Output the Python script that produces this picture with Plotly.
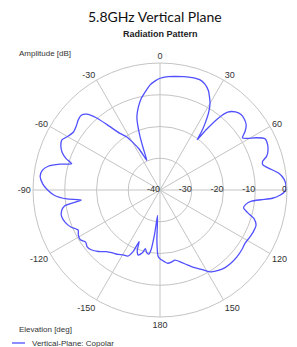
import plotly.graph_objects as go

# Elevation angle (deg, clockwise from top) and amplitude (dB)
theta_deg = [0, 4, 8, 12, 16, 20, 23, 26, 28, 30, 32, 34, 35.5, 36.5, 37.5, 39, 41, 44, 47, 50,
             53, 55.5, 57.7, 59.5, 61.5, 64, 67, 70, 72.5, 74.5, 76.5, 79, 82, 85, 88, 90.5,
             92.5, 94.2, 95.5, 97, 99.5, 102, 104.5, 107, 110, 114, 118, 122, 126, 131, 136,
             140, 144, 148, 152, 156, 160, 164, 168, 171, 174, 176.5, 179, 181.5, 183.5, 185.5,
             187, 188.5, 190, 192, 194, 195.5, 198.5, 200.5, 202, 203.5, 206, 209.5, 213, 217,
             221, 225, 229, 232, 235, 238, 241, 244, 247.5, 251, 255, 258, 260.5, 262.7, 264.5,
             267, 270, 273, 276.5, 279.5, 282, 284.5, 286.5, 288.5, 291, 294, 297, 300.5, 304,
             307.5, 310.5, 313.5, 316, 318.5, 321, 324.5, 328, 333, 336, 338, 339.5, 341, 342.5,
             345.5, 348.5, 351.5, 354.5, 357.5, 360]
gain_db = [-4.8, -4.2, -3.9, -3.5, -3.2, -3.1, -3.8, -5.2, -6.8, -8.5, -11.0, -14.5, -17.5, -20.3,
           -16.0, -11.0, -7.5, -5.8, -5.1, -5.3, -6.0, -7.5, -9.3, -8.0, -5.5, -3.2, -3.2, -3.8,
           -4.8, -6.5, -6.6, -4.8, -2.2, -0.8, -0.3, -0.6, -2.2, -4.5, -8.0, -11.0, -12.6, -13.1,
           -11.5, -9.0, -7.8, -7.8, -8.1, -8.4, -8.1, -7.9, -7.9, -8.1, -8.7, -9.6, -11.6, -13.2,
           -14.9, -16.4, -17.4, -17.0, -16.8, -17.4, -18.0, -19.0, -24.0, -32.0, -26.0, -21.0,
           -19.5, -19.8, -21.0, -19.6, -18.4, -19.5, -22.5, -19.0, -16.8, -16.5, -15.8, -15.2,
           -14.3, -12.6, -11.3, -10.9, -11.4, -10.4, -10.6, -11.3, -9.6, -8.5, -7.9, -8.3, -9.5,
           -15.0, -10.5, -6.8, -4.6, -3.0, -2.0, -2.4, -4.0, -7.5, -11.0, -8.8, -7.0, -5.8, -5.3,
           -6.5, -7.2, -6.8, -6.1, -5.8, -6.8, -9.5, -13.5, -18.0, -20.3, -25.5, -29.8, -26.0,
           -22.0, -18.5, -15.8, -12.9, -10.5, -8.7, -6.8, -5.6, -4.8]

angle_ticks = [0, 30, 60, 90, 120, 150, 180, 210, 240, 270, 300, 330]
angle_labels = ["0", "30", "60", "90", "120", "150", "180", "-150", "-120", "-90", "-60", "-30"]
r_ticks = [-40, -30, -20, -10, 0]
r_labels = ["-40", "-30", "-20", "-10", "0"]

series_name = "Vertical-Plane: Copolar"
line_color = "#5050ff"
grid_color = "#c4c4c4"
label_font = dict(family="Liberation Sans, Arial", size=9, color="#333333")

# page has an 8px body margin; plot square 254px centred at (160,190) in the screenshot
OFF = 8
W, H = 297, 347
ML, MT, SIDE = 160 - 127 - OFF, 190 - 127 - OFF, 254
MR, MB = W - ML - SIDE, H - MT - SIDE


def px(x):
    return (x - OFF - ML) / SIDE


def py(y):
    return (H - MB - (y - OFF)) / SIDE


fig = go.Figure()
fig.add_trace(go.Scatterpolar(
    r=gain_db, theta=theta_deg, mode="lines",
    line=dict(color=line_color, width=1.3, shape="spline", smoothing=0.6),
    name=series_name, showlegend=False, hoverinfo="skip"))
fig.add_trace(go.Scatterpolar(
    r=r_ticks, theta=[90] * len(r_ticks), mode="text", text=r_labels,
    textposition="middle left", textfont=label_font,
    showlegend=False, hoverinfo="skip"))

ann_font = dict(family="Liberation Sans, Arial", size=8, color="#333333")
fig.update_layout(
    width=W, height=H,
    margin=dict(l=ML, r=MR, t=MT, b=MB),
    paper_bgcolor="white",
    polar=dict(
        bgcolor="white",
        domain=dict(x=[0, 1], y=[0, 1]),
        angularaxis=dict(
            rotation=90, direction="clockwise",
            tickmode="array", tickvals=angle_ticks, ticktext=angle_labels,
            tickfont=label_font, ticks="",
            showgrid=True, gridcolor=grid_color, gridwidth=1,
            showline=True, linecolor=grid_color, linewidth=1),
        radialaxis=dict(
            range=[-40, 0], tickmode="array", tickvals=r_ticks,
            showticklabels=False, ticks="", showline=False,
            showgrid=True, gridcolor=grid_color, gridwidth=1, angle=0),
    ),
    annotations=[
        dict(text="5.8GHz Vertical Plane", x=px(155), y=py(16), xref="paper", yref="paper",
             yanchor="middle", showarrow=False,
             font=dict(family="Lato, Open Sans", size=14, color="#111111")),
        dict(text="<b>Radiation Pattern</b>", x=px(160), y=py(34), xref="paper", yref="paper",
             yanchor="middle", showarrow=False,
             font=dict(family="Liberation Sans, Arial", size=9, color="#222222")),
        dict(text="Amplitude [dB]", x=px(17), y=py(53), xref="paper", yref="paper",
             xanchor="left", yanchor="middle", showarrow=False, font=ann_font),
        dict(text="Elevation [deg]", x=px(17), y=py(329), xref="paper", yref="paper",
             xanchor="left", yanchor="middle", showarrow=False, font=ann_font),
        dict(text=series_name, x=px(30), y=py(343), xref="paper", yref="paper",
             xanchor="left", yanchor="middle", showarrow=False, font=ann_font),
    ],
)

fig.add_shape(type="line", xref="paper", yref="paper",
              x0=px(12), x1=px(25), y0=py(343), y1=py(343),
              line=dict(color=line_color, width=1.3))

fig.write_html("out.html")
